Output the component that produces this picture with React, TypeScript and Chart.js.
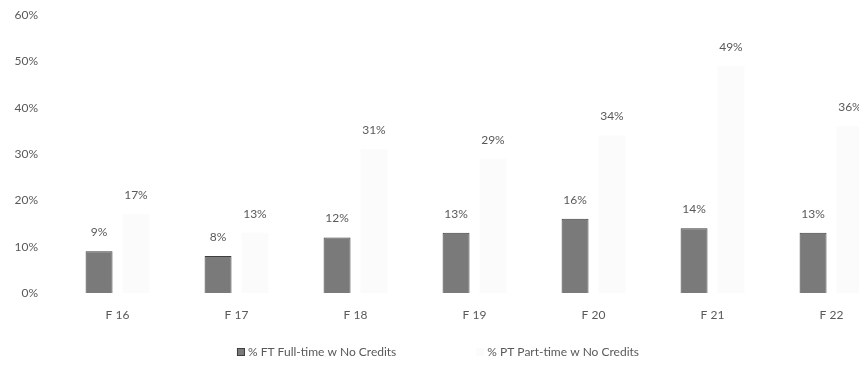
import React, { useEffect, useRef } from "react";
import { Chart, registerables } from "chart.js";

Chart.register(...registerables);

// Terms and the share of students in each group who earned no credits
const categories = ["F 16", "F 17", "F 18", "F 19", "F 20", "F 21", "F 22"];
const fullTimeNoCredits = [9, 8, 12, 13, 16, 14, 13];
const partTimeNoCredits = [17, 13, 31, 29, 34, 49, 36];
const seriesNames = ["% FT Full-time w No Credits", "% PT Part-time w No Credits"];
const yMin = 0;
const yMax = 60;
const yStep = 10;

const TEXT_COLOR = "#595959";
const FONT_FAMILY = "Lato, 'Open Sans', sans-serif";
const FONT_SIZE = 12;
const FT_FILL = "#7a7a7a";
const FT_BORDER = "#3f3f3f";
const PT_FILL = "#fbfbfb";

const CANVAS_W = 895;
const CANVAS_H = 365;

// Percentage labels above every bar
const valueLabels = {
  id: "valueLabels",
  afterDatasetsDraw(chart: any) {
    const { ctx } = chart;
    ctx.save();
    ctx.font = `${FONT_SIZE}px ${FONT_FAMILY}`;
    ctx.fillStyle = TEXT_COLOR;
    ctx.textAlign = "center";
    ctx.textBaseline = "middle";
    chart.data.datasets.forEach((ds: any, di: number) => {
      const meta = chart.getDatasetMeta(di);
      meta.data.forEach((bar: any, i: number) => {
        ctx.fillText(`${ds.data[i]}%`, bar.x, bar.y - 19);
      });
    });
    ctx.restore();
  },
};

// Legend row along the bottom
const bottomLegend = {
  id: "bottomLegend",
  afterDraw(chart: any) {
    const { ctx } = chart;
    const box = 8;
    const gapBoxText = 3;
    const gapItems = 80;
    const centerX = 438;
    const y = 352;
    ctx.save();
    ctx.font = `${FONT_SIZE}px ${FONT_FAMILY}`;
    const widths = chart.data.datasets.map(
      (ds: any) => box + gapBoxText + ctx.measureText(ds.label).width
    );
    const total = widths.reduce((a: number, b: number) => a + b, 0) + gapItems * (widths.length - 1);
    let x = centerX - total / 2;
    chart.data.datasets.forEach((ds: any, i: number) => {
      ctx.fillStyle = ds.backgroundColor;
      ctx.fillRect(x, y - box / 2, box, box);
      if (ds.borderWidth) {
        ctx.strokeStyle = ds.borderColor;
        ctx.lineWidth = 1;
        ctx.strokeRect(x + 0.5, y - box / 2 + 0.5, box - 1, box - 1);
      }
      ctx.fillStyle = TEXT_COLOR;
      ctx.textAlign = "left";
      ctx.textBaseline = "middle";
      ctx.fillText(ds.label, x + box + gapBoxText, y);
      x += widths[i] + gapItems;
    });
    ctx.restore();
  },
};

export default function App() {
  const canvasRef = useRef<HTMLCanvasElement | null>(null);

  useEffect(() => {
    document.documentElement.style.overflow = "hidden";
    document.body.style.overflow = "hidden";
    const canvas = canvasRef.current;
    if (!canvas) return;
    const chart = new Chart(canvas, {
      type: "bar",
      data: {
        labels: categories,
        datasets: [
          {
            label: seriesNames[0],
            data: fullTimeNoCredits,
            backgroundColor: FT_FILL,
            borderColor: FT_BORDER,
            borderWidth: 1,
            categoryPercentage: 0.62,
            barPercentage: 0.73,
          },
          {
            label: seriesNames[1],
            data: partTimeNoCredits,
            backgroundColor: PT_FILL,
            borderWidth: 0,
            categoryPercentage: 0.62,
            barPercentage: 0.73,
          },
        ],
      },
      options: {
        responsive: false,
        maintainAspectRatio: false,
        animation: false,
        layout: { padding: { top: 15, right: 4, bottom: 0, left: 0 } },
        plugins: {
          legend: { display: false },
          tooltip: { enabled: false },
        },
        scales: {
          x: {
            grid: { display: false, drawTicks: false },
            border: { display: false },
            ticks: {
              color: TEXT_COLOR,
              font: { family: FONT_FAMILY, size: FONT_SIZE },
              padding: 15,
            },
            afterFit(scale: any) {
              scale.height = 72;
            },
          },
          y: {
            min: yMin,
            max: yMax,
            grid: { display: false, drawTicks: false },
            border: { display: false },
            ticks: {
              stepSize: yStep,
              color: TEXT_COLOR,
              font: { family: FONT_FAMILY, size: FONT_SIZE },
              padding: 20,
              callback: (v: any) => `${v}%`,
            },
            afterFit(scale: any) {
              scale.width = 58;
              // only half a label of room is needed above the top tick
              scale.paddingTop = 8;
              scale.paddingBottom = 8;
            },
          },
        },
      },
      plugins: [valueLabels, bottomLegend],
    });
    return () => chart.destroy();
  }, []);

  return (
    <div style={{ position: "fixed", left: 0, top: 0, width: CANVAS_W, height: CANVAS_H, background: "#fff" }}>
      <canvas ref={canvasRef} width={CANVAS_W} height={CANVAS_H} />
    </div>
  );
}
